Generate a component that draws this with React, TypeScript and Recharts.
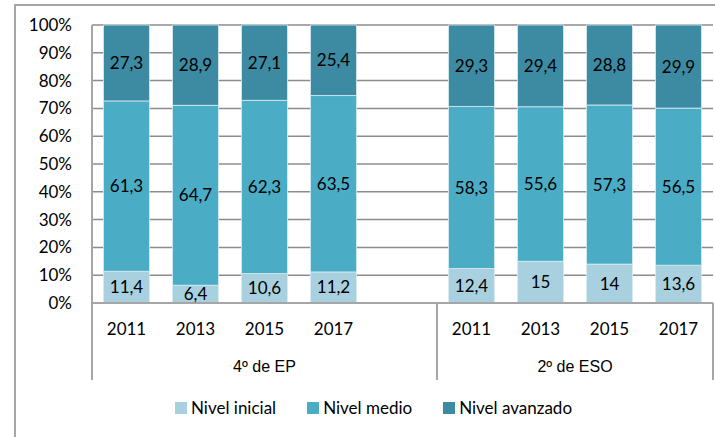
import React from 'react';
import { BarChart, Bar, XAxis, YAxis, CartesianGrid, Legend, LabelList } from 'recharts';

// categories (blank slot separates the two groups)
const years = ['2011', '2013', '2015', '2017', '', '2011', '2013', '2015', '2017'];
const inicial = [11.4, 6.4, 10.6, 11.2, null, 12.4, 15, 14, 13.6];
const medio = [61.3, 64.7, 62.3, 63.5, null, 58.3, 55.6, 57.3, 56.5];
const avanzado = [27.3, 28.9, 27.1, 25.4, null, 29.3, 29.4, 28.8, 29.9];

// group row: category index ranges [start, end)
const groups = [
  { label: '4º de EP', start: 0, end: 5 },
  { label: '2º de ESO', start: 5, end: 9 },
];
const yTicks = [0, 0.1, 0.2, 0.3, 0.4, 0.5, 0.6, 0.7, 0.8, 0.9, 1];

const SERIES = [
  { key: 'inicial', name: 'Nivel inicial', color: '#a8d0df' },
  { key: 'medio', name: 'Nivel medio', color: '#4bacc6' },
  { key: 'avanzado', name: 'Nivel avanzado', color: '#3d8ba3' },
];

const data = years.map((y, i) => ({
  year: y,
  inicial: inicial[i],
  medio: medio[i],
  avanzado: avanzado[i],
}));

const FONT = 'Lato, "Open Sans", sans-serif';
const FS = 17;
const AXIS_GRAY = '#a6a6a6';
const YEAR_ROW = 40;
const GROUP_ROW = 37;
const PLOT_W = 713 - 92;

const fmt = (v: any) => (v == null ? '' : String(v).replace('.', ','));

// draws group separators and group names on the second category row
const GroupTick = (props: any) => {
  const { x, y, index, payload } = props;
  const half = payload && payload.offset ? payload.offset : PLOT_W / years.length / 2;
  const out: React.ReactNode[] = [];
  groups.forEach((g, gi) => {
    const line = (lx: number, k: string) => (
      <line key={k} x1={lx} x2={lx} y1={y - YEAR_ROW} y2={y + GROUP_ROW} stroke={AXIS_GRAY} strokeWidth={2} />
    );
    if (index === g.start) out.push(line(x - half, `s${gi}`));
    if (index === g.end - 1) out.push(line(x + half, `e${gi}`));
    const c = (g.start + g.end - 1) / 2;
    if (index === Math.floor(c)) {
      out.push(
        <text
          key={`t${gi}`}
          x={x + (c - Math.floor(c)) * 2 * half}
          y={y + 29}
          textAnchor="middle"
          fontSize={16}
          fill="#000"
          fontFamily='"Liberation Sans", Arial, sans-serif'
        >
          {g.label}
        </text>
      );
    }
  });
  return <g>{out}</g>;
};

const LegendContent = () => (
  <div style={{ display: 'flex', paddingLeft: 175, paddingTop: 4, fontFamily: FONT, fontSize: FS, color: '#000' }}>
    {SERIES.map((s) => (
      <div key={s.key} style={{ display: 'flex', alignItems: 'center', marginRight: 31 }}>
        <span style={{ width: 12, height: 12, background: s.color, marginRight: 4, display: 'inline-block' }} />
        <span>{s.name}</span>
      </div>
    ))}
  </div>
);

export default function App() {
  return (
    <div style={{ position: 'absolute', left: 0, top: 0, width: 715, height: 437, background: '#fff' }}>
      <div
        style={{
          position: 'absolute',
          left: 14,
          top: 4,
          right: -10,
          bottom: -10,
          borderLeft: '2px solid #a6a6a6',
          borderTop: '2px solid #a6a6a6',
        }}
      />
      <BarChart
        width={715}
        height={437}
        data={data}
        stackOffset="expand"
        barCategoryGap={11.5}
        margin={{ top: 25, right: 2, left: 0, bottom: 16 }}
        style={{ position: 'absolute', left: 0, top: 0 }}
      >
        <CartesianGrid vertical={false} stroke="#8c8c8c" strokeWidth={1.5} />
        <YAxis
          domain={[0, 1]}
          ticks={yTicks}
          width={92}
          tickFormatter={(v) => `${Math.round(v * 100)}%`}
          tick={{ fontSize: FS, fill: '#000', fontFamily: FONT }}
          tickLine={false}
          tickSize={0}
          tickMargin={20}
          axisLine={{ stroke: AXIS_GRAY, strokeWidth: 2 }}
        />
        <XAxis
          dataKey="year"
          height={YEAR_ROW}
          interval={0}
          tickLine={false}
          tickSize={0}
          tickMargin={20}
          tick={{ fontSize: FS, fill: '#000', fontFamily: FONT }}
          axisLine={{ stroke: AXIS_GRAY, strokeWidth: 2 }}
        />
        <XAxis
          xAxisId="grp"
          dataKey="year"
          height={50}
          interval={0}
          axisLine={false}
          tickLine={false}
          tickSize={0}
          tickMargin={0}
          tick={<GroupTick />}
        />
        {SERIES.map((s) => (
          <Bar
            key={s.key}
            dataKey={s.key}
            name={s.name}
            stackId="a"
            fill={s.color}
            stroke="#d8ecf2"
            strokeWidth={0.8}
            isAnimationActive={false}
          >
            <LabelList
              dataKey={s.key}
              position="center"
              formatter={fmt}
              style={{ fontSize: FS, fill: '#000', fontFamily: FONT }}
            />
          </Bar>
        ))}
        <Legend verticalAlign="bottom" height={28} content={<LegendContent />} />
      </BarChart>
    </div>
  );
}
